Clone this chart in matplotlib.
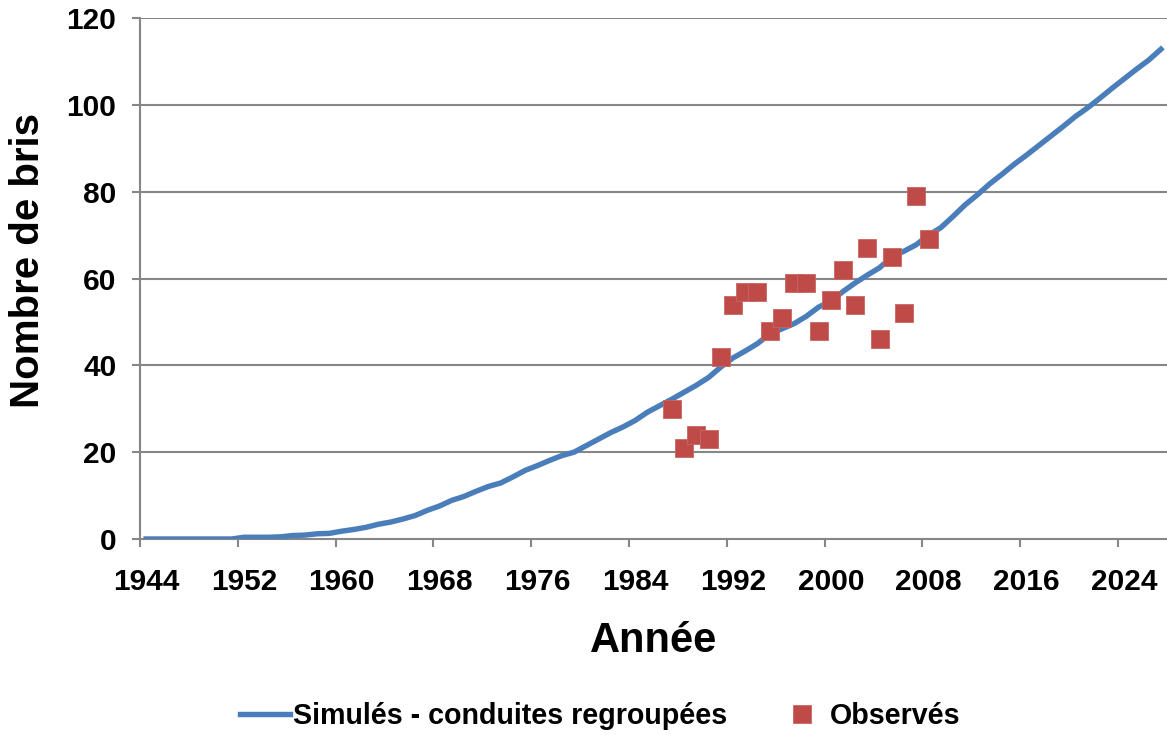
import matplotlib
matplotlib.use("Agg")
import matplotlib.pyplot as plt
import numpy as np

# ---------------- data ----------------
sim_years = list(range(1944, 2028))
sim_values = [0, 0, 0, 0, 0, 0, 0, 0,            # 1944-1951
              0.4, 0.4, 0.4, 0.5, 0.8, 0.9, 1.2, 1.3,   # 1952-1959
              1.8, 2.2, 2.7, 3.4, 3.9, 4.6, 5.4, 6.6,   # 1960-1967
              7.6, 8.9, 9.8, 11.0, 12.1, 12.9, 14.3, 15.8,  # 1968-1975
              16.9, 18.1, 19.2, 20.0, 21.5, 23.0, 24.5, 25.8,  # 1976-1983
              27.3, 29.2, 30.7, 32.2, 33.8, 35.4, 37.2, 39.6,  # 1984-1991
              41.7, 43.3, 45.0, 47.2, 48.4, 49.6, 51.3, 53.4,  # 1992-1999
              54.8, 57.0, 59.0, 60.8, 62.5, 65.0, 66.3, 67.8,  # 2000-2007
              70.0, 71.7, 74.3, 77.0, 79.3, 81.8, 84.0, 86.3,  # 2008-2015
              88.4, 90.6, 92.8, 95.0, 97.3, 99.3, 101.5, 103.8,  # 2016-2023
              106.0, 108.2, 110.3, 112.8]                 # 2024-2027

obs_years = list(range(1987, 2009))
obs_values = [30, 21, 24, 23, 42, 54, 57, 57, 48, 51, 59,
              59, 48, 55, 62, 54, 67, 46, 65, 52, 79, 69]

label_years = list(range(1944, 2025, 8))
y_ticks = [0, 20, 40, 60, 80, 100, 120]

sim_label = "Simulés - conduites regroupées"
obs_label = "Observés"
x_title = "Année"
y_title = "Nombre de bris"

# ---------------- style ----------------
plt.rcParams['font.family'] = ['Liberation Sans', 'DejaVu Sans']
plt.rcParams['font.weight'] = 'bold'

W, H = 1167, 735
fig = plt.figure(figsize=(W / 100, H / 100), dpi=100)
ax_left, ax_right, ax_bottom, ax_top = 140, 1167, 539, 18
ax = fig.add_axes([ax_left / W, 1 - ax_bottom / H,
                   (ax_right - ax_left) / W, (ax_bottom - ax_top) / H])

grey = '#868686'
blue = '#4A7EBB'
red = '#BE4B48'

ax.set_xlim(1943.5, 2027.5)
ax.set_ylim(0, 120)

for v in y_ticks[1:]:
    ax.axhline(v, color=grey, lw=1.5, zorder=1)

line, = ax.plot(sim_years, sim_values, color=blue, lw=3.9, zorder=3,
                solid_joinstyle='round', label=sim_label, clip_on=True)
pts, = ax.plot(obs_years, obs_values, linestyle='none', marker='s',
               markersize=13, markerfacecolor=red, markeredgecolor='#C86663',
               markeredgewidth=0.6, zorder=4, label=obs_label)

for s in ['top', 'right']:
    ax.spines[s].set_visible(False)
for s in ['left', 'bottom']:
    ax.spines[s].set_color(grey)
    ax.spines[s].set_linewidth(1.5)

# x: tick marks at category boundaries, labels at category centres
ax.set_xticks([y - 0.5 for y in label_years])
ax.set_xticklabels([])
ax.set_xticks(label_years, minor=True)
ax.set_xticklabels([str(y) for y in label_years], minor=True)
ax.tick_params(axis='x', which='major', direction='out', length=6,
               width=1.5, color=grey)
ax.tick_params(axis='x', which='minor', length=0, pad=21,
               labelsize=21.5)

ax.set_yticks(y_ticks)
ax.set_yticklabels([str(v) for v in y_ticks])
ax.tick_params(axis='y', direction='out', length=6, width=1.5,
               color=grey, pad=11, labelsize=21.5)

for lab in ax.get_xticklabels(minor=True) + ax.get_yticklabels():
    lab.set_fontweight('bold')

ax.set_xlabel(x_title, fontsize=30, fontweight='bold', va='center')
ax.xaxis.set_label_coords(0.5, (ax_bottom - 641) / (ax_bottom - ax_top))
ax.set_ylabel(y_title, fontsize=29, fontweight='bold', va='center')
ax.yaxis.set_label_coords((28 - ax_left) / (ax_right - ax_left),
                          (ax_bottom - 261) / (ax_bottom - ax_top))

fig.legend(handles=[line, pts], loc='center', ncol=2, frameon=False,
           bbox_to_anchor=(600 / W, 1 - 716 / H),
           handlelength=1.75, handletextpad=0.1, columnspacing=1.75,
           prop={'weight': 'bold', 'size': 20.6})

fig.savefig('out.png', dpi=100)
